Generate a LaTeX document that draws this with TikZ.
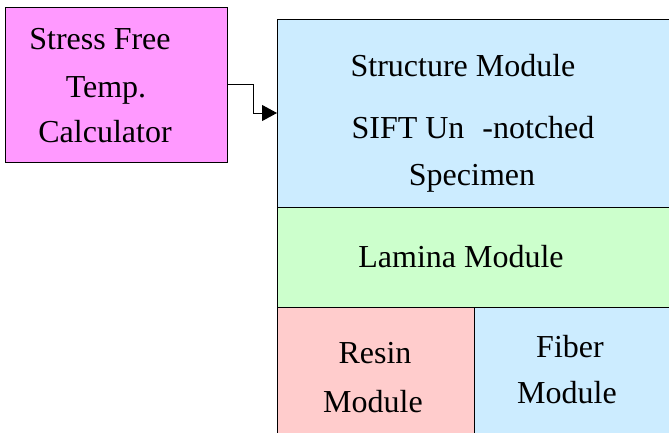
\documentclass[tikz,border=0pt]{standalone}
\usepackage{fontspec}
\setmainfont{Liberation Serif}
\newfontfamily\modfont{Liberation Serif}
\usetikzlibrary{arrows.meta}
\tikzset{>={Triangle[length=15pt,width=16pt]}}
\definecolor{calcpink}{HTML}{FF99FF}
\definecolor{modblue}{HTML}{CCECFF}
\definecolor{modgreen}{HTML}{CCFFCC}
\definecolor{modred}{HTML}{FFCCCC}
\tikzset{
  modbox/.style={draw=black, line width=1pt, inner sep=0pt, outer sep=0pt},
  modtext/.style={anchor=base, inner sep=0pt, font=\modfont\fontsize{32}{40}\selectfont}
}

\begin{document}
\begin{tikzpicture}[x=1pt,y=-1pt]
    \useasboundingbox (0,0) rectangle (669,432);
    \clip (0,0) rectangle (669,432);
    % Stress free temperature calculator
    \node[modbox,fill=calcpink,minimum width=222pt,minimum height=155pt] (calc) at (116,84.5) {};
    \node[modtext] (calcA) at (100,49) {Stress Free};
    \node[modtext] (calcB) at (106,97) {Temp.};
    \node[modtext] (calcC) at (105,142) {Calculator};
    % Structure module (runs past the page edge)
    \node[modbox,fill=modblue,minimum width=403pt,minimum height=188pt] (struct) at (478.5,113) {};
    \node[modtext] (structA) at (463,76) {Structure Module};
    \node[modtext] (structB) at (473,138) {SIFT Un\hspace{18pt}-notched};
    \node[modtext] (structC) at (472,185) {Specimen};
    % Lamina module
    \node[modbox,fill=modgreen,minimum width=403pt,minimum height=100pt] (lamina) at (478.5,257) {};
    \node[modtext] (laminaA) at (461,267) {Lamina Module};
    % Resin module
    \node[modbox,fill=modred,minimum width=197pt,minimum height=138pt] (resin) at (375.5,376) {};
    \node[modtext] (resinA) at (375,363) {Resin};
    \node[modtext] (resinB) at (373,412) {Module};
    % Fiber module
    \node[modbox,fill=modblue,minimum width=206pt,minimum height=138pt] (fiber) at (577,376) {};
    \node[modtext] (fiberA) at (570,357) {Fiber};
    \node[modtext] (fiberB) at (567,403) {Module};
    % Elbow connector into the structure module
    \draw[->,line width=1pt] (calc.east) -- ++(26,0) |- (struct.west);
\end{tikzpicture}
\end{document}
